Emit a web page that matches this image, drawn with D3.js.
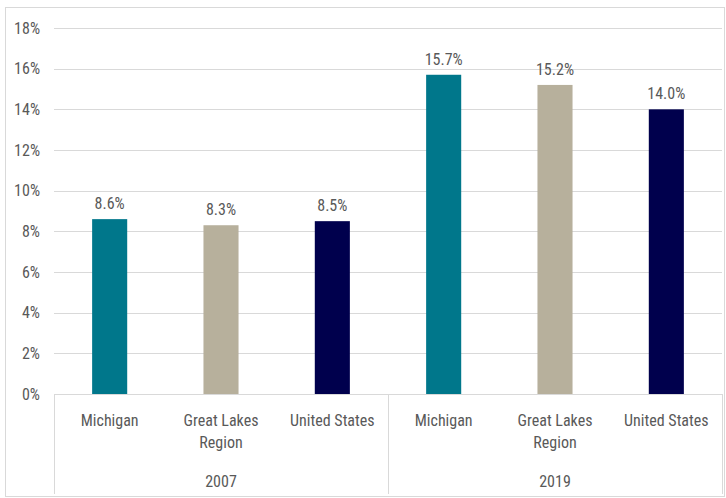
<!DOCTYPE html>
<html><head><meta charset="utf-8">
<script src="https://cdn.jsdelivr.net/npm/d3@7"></script>
<style>body{margin:0;background:#fff}svg{display:block}text{font-family:"Liberation Sans Narrow","Roboto Condensed","Liberation Sans",sans-serif;fill:#595959}</style>
</head><body><svg id="c" width="726" height="498"></svg>
<script>
const years = ["2007","2019"];
const regions = ["Michigan","Great Lakes Region","United States"];
const values2007 = [8.6, 8.3, 8.5];
const values2019 = [15.7, 15.2, 14.0];
const colors = ["#00778B","#B7B09C","#00004D"];
const yTicks = [0,2,4,6,8,10,12,14,16,18];

const data = [];
years.forEach((y,i)=>{
  const vals = i===0?values2007:values2019;
  regions.forEach((r,j)=>data.push({key:y+"|"+r, year:y, region:r, value:vals[j], color:colors[j]}));
});

const FS = 16;
const svg = d3.select("#c");
const L=54, R=722, T=28, B=394;
svg.append("rect").attr("x",5.5).attr("y",7.5).attr("width",719).attr("height",489).attr("fill","none").attr("stroke","#d9d9d9");

const x = d3.scaleBand().domain(data.map(d=>d.key)).range([L,R]).paddingInner(0.685).paddingOuter(0.3425);
const y = d3.scaleLinear().domain([0,18]).range([B,T]);

// gridlines
svg.append("g").selectAll("line").data(yTicks.filter(t=>t>0)).join("line")
  .attr("x1",L).attr("x2",R).attr("y1",d=>Math.round(y(d))+0.5).attr("y2",d=>Math.round(y(d))+0.5)
  .attr("stroke","#d9d9d9").attr("stroke-width",1);

// y axis labels
const ya = svg.append("g").attr("transform",`translate(${L},0)`)
  .call(d3.axisLeft(y).tickValues(yTicks).tickFormat(d=>d+"%").tickSize(0).tickPadding(14));
ya.select(".domain").remove();
ya.attr("font-family",null).attr("font-size",null);
ya.selectAll("text").attr("font-size",FS);

// bars
svg.append("g").selectAll("rect").data(data).join("rect")
  .attr("x",d=>x(d.key)).attr("width",x.bandwidth())
  .attr("y",d=>y(d.value)).attr("height",d=>y(0)-y(d.value)).attr("fill",d=>d.color);

// value labels
svg.append("g").selectAll("text").data(data).join("text")
  .attr("x",d=>x(d.key)+x.bandwidth()/2).attr("y",d=>y(d.value)-10)
  .attr("text-anchor","middle").attr("font-size",FS).text(d=>d.value.toFixed(1)+"%");

// x axis baseline and group separators
svg.append("line").attr("x1",L).attr("x2",R).attr("y1",B+0.5).attr("y2",B+0.5).attr("stroke","#d9d9d9");
const groupBounds = [L, (L+R)/2, R];
svg.append("g").selectAll("line").data(groupBounds).join("line")
  .attr("x1",d=>Math.round(d)+0.5).attr("x2",d=>Math.round(d)+0.5).attr("y1",B).attr("y2",494)
  .attr("stroke","#d9d9d9");

// category labels
const cat = svg.append("g").selectAll("text").data(data).join("text")
  .attr("text-anchor","middle").attr("font-size",FS)
  .attr("x",d=>x(d.key)+x.bandwidth()/2).attr("y",426);
cat.each(function(d){
  const t = d3.select(this);
  const lines = d.region==="Great Lakes Region"?["Great Lakes","Region"]:[d.region];
  lines.forEach((ln,i)=>t.append("tspan").attr("x",x(d.key)+x.bandwidth()/2).attr("dy",i===0?0:22).text(ln));
});

// year labels
svg.append("g").selectAll("text").data(years).join("text")
  .attr("text-anchor","middle").attr("font-size",FS)
  .attr("x",(d,i)=>(groupBounds[i]+groupBounds[i+1])/2).attr("y",487).text(d=>d);
</script></body></html>
